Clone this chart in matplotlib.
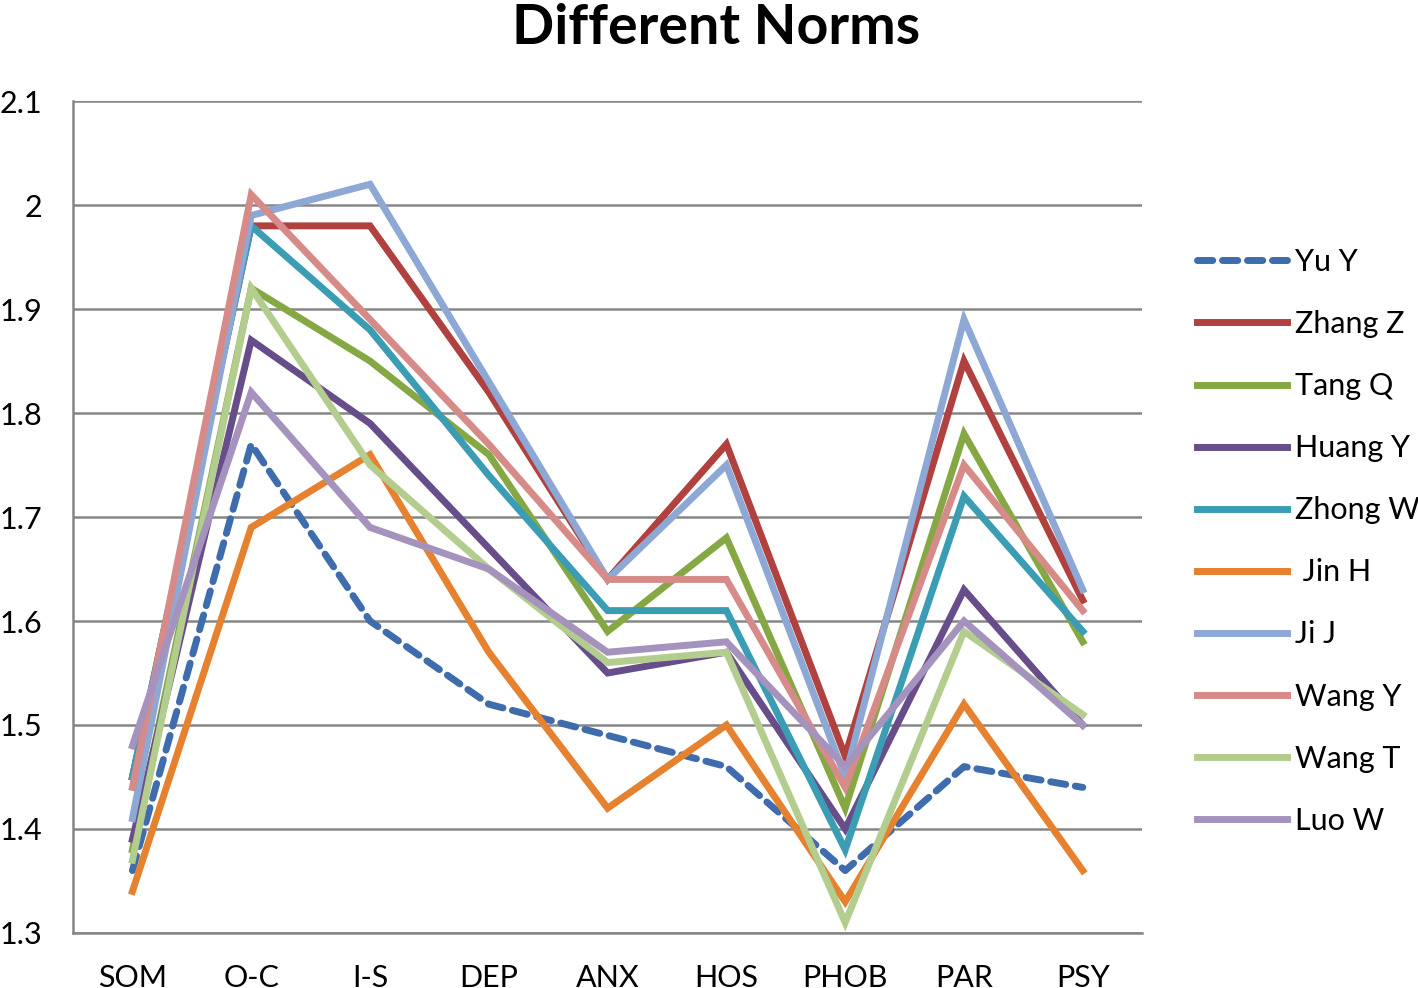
import matplotlib
matplotlib.use("Agg")
import matplotlib.pyplot as plt

# ── Data ──────────────────────────────────────────────────────────────────────
categories = ["SOM", "O-C", "I-S", "DEP", "ANX", "HOS", "PHOB", "PAR", "PSY"]

yu_y = [1.36, 1.77, 1.60, 1.52, 1.49, 1.46, 1.36, 1.46, 1.44]
zhang_z = [1.45, 1.98, 1.98, 1.82, 1.64, 1.77, 1.47, 1.85, 1.62]
tang_q = [1.38, 1.92, 1.85, 1.76, 1.59, 1.68, 1.42, 1.78, 1.58]
huang_y = [1.39, 1.87, 1.79, 1.67, 1.55, 1.57, 1.40, 1.63, 1.50]
zhong_w = [1.45, 1.98, 1.88, 1.74, 1.61, 1.61, 1.38, 1.72, 1.59]
jin_h = [1.34, 1.69, 1.76, 1.57, 1.42, 1.50, 1.33, 1.52, 1.36]
ji_j = [1.41, 1.99, 2.02, 1.83, 1.64, 1.75, 1.45, 1.89, 1.63]
wang_y = [1.44, 2.01, 1.89, 1.77, 1.64, 1.64, 1.44, 1.75, 1.61]
wang_t = [1.37, 1.92, 1.75, 1.65, 1.56, 1.57, 1.31, 1.59, 1.51]
luo_w = [1.48, 1.82, 1.69, 1.65, 1.57, 1.58, 1.46, 1.60, 1.50]

series_names = ["Yu Y", "Zhang Z", "Tang Q", "Huang Y", "Zhong W",
                " Jin H", "Ji J", "Wang Y", "Wang T", "Luo W"]
series_values = [yu_y, zhang_z, tang_q, huang_y, zhong_w,
                 jin_h, ji_j, wang_y, wang_t, luo_w]
series_colors = ["#3E6CAC", "#B0413E", "#86A844", "#674E8B", "#3A9DB4",
                 "#E5812F", "#8EA8D5", "#D68B88", "#B3CD8E", "#A593BE"]

yticks = [1.3, 1.4, 1.5, 1.6, 1.7, 1.8, 1.9, 2.0, 2.1]
ytick_labels = ["1.3", "1.4", "1.5", "1.6", "1.7", "1.8", "1.9", "2", "2.1"]

# ── Style ─────────────────────────────────────────────────────────────────────
plt.rcParams.update({
    "font.family": ["Lato", "DejaVu Sans"],
    "font.size": 22,
})

fig = plt.figure(figsize=(14.18, 9.88), dpi=100)
ax = fig.add_axes([0.0515, 0.0557, 0.754, 0.842])

x = list(range(len(categories)))
for name, vals, col in zip(series_names, series_values, series_colors):
    ls = (0, (2.2, 1.4)) if name == "Yu Y" else "-"
    ax.plot(x, vals, color=col, linewidth=5, linestyle=ls,
            solid_joinstyle="miter", dash_capstyle="round", label=name)

ax.set_xlim(-0.5, len(categories) - 0.5)
ax.set_ylim(1.3, 2.1)
ax.set_xticks(x)
ax.set_xticklabels(categories, fontsize=22)
ax.set_yticks(yticks)
ax.set_yticklabels(ytick_labels, fontsize=22)
ax.tick_params(axis="x", length=0, pad=22)
ax.tick_params(axis="y", length=0, pad=22)

ax.yaxis.grid(True, color="#868686", linewidth=1.8)
ax.set_axisbelow(True)
for side in ["top", "right"]:
    ax.spines[side].set_visible(False)
for side in ["left", "bottom"]:
    ax.spines[side].set_color("#868686")
    ax.spines[side].set_linewidth(1.8)

fig.text(0.505, 0.997, "Different Norms", fontsize=40, fontweight="bold",
         ha="center", va="top")

ax.legend(loc="upper left", bbox_to_anchor=(1.040, 0.838), frameon=False,
          handlelength=2.95, handletextpad=0.25, labelspacing=1.115,
          fontsize=22, borderaxespad=0)

fig.savefig("out.png", dpi=100)
